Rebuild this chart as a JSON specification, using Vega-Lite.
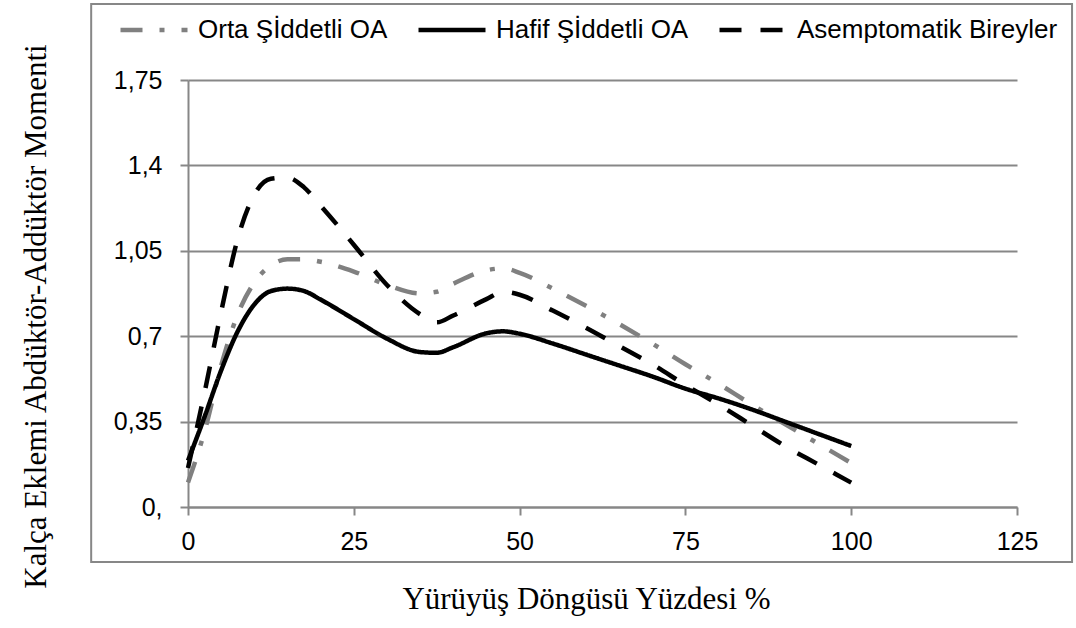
{
  "$schema": "https://vega.github.io/schema/vega-lite/v6.json",
  "autosize": {"type": "none"},
  "width": 829,
  "height": 427,
  "padding": {"left": 188, "top": 80, "right": 59, "bottom": 121},
  "background": "white",
  "config": {
    "view": {"stroke": null},
    "font": "Liberation Sans"
  },
  "layer": [
    {
      "data": {"values": [{"k": 1}]},
      "mark": {"type": "rect", "fill": "transparent", "stroke": "#878787", "strokeWidth": 2},
      "encoding": {
        "x": {"datum": -14.6, "type": "quantitative"},
        "x2": {"datum": 133.3},
        "y": {"datum": 2.061, "type": "quantitative"},
        "y2": {"datum": -0.225}
      }
    },
    {
      "data": {
        "values": [
          {"series": "Orta Şİddetli OA", "x": 0, "y": 0.10},
          {"series": "Orta Şİddetli OA", "x": 2.5, "y": 0.31},
          {"series": "Orta Şİddetli OA", "x": 5, "y": 0.58},
          {"series": "Orta Şİddetli OA", "x": 7.5, "y": 0.79},
          {"series": "Orta Şİddetli OA", "x": 10, "y": 0.92},
          {"series": "Orta Şİddetli OA", "x": 12.5, "y": 0.99},
          {"series": "Orta Şİddetli OA", "x": 15, "y": 1.015},
          {"series": "Orta Şİddetli OA", "x": 17.5, "y": 1.015},
          {"series": "Orta Şİddetli OA", "x": 20, "y": 1.005},
          {"series": "Orta Şİddetli OA", "x": 25, "y": 0.965},
          {"series": "Orta Şİddetli OA", "x": 30, "y": 0.91},
          {"series": "Orta Şİddetli OA", "x": 35, "y": 0.875},
          {"series": "Orta Şİddetli OA", "x": 37.5, "y": 0.882},
          {"series": "Orta Şİddetli OA", "x": 40, "y": 0.915},
          {"series": "Orta Şİddetli OA", "x": 45, "y": 0.97},
          {"series": "Orta Şİddetli OA", "x": 47.5, "y": 0.978},
          {"series": "Orta Şİddetli OA", "x": 50, "y": 0.96},
          {"series": "Orta Şİddetli OA", "x": 55, "y": 0.895},
          {"series": "Orta Şİddetli OA", "x": 60, "y": 0.825},
          {"series": "Orta Şİddetli OA", "x": 65, "y": 0.75},
          {"series": "Orta Şİddetli OA", "x": 70, "y": 0.67},
          {"series": "Orta Şİddetli OA", "x": 75, "y": 0.585},
          {"series": "Orta Şİddetli OA", "x": 80, "y": 0.505},
          {"series": "Orta Şİddetli OA", "x": 85, "y": 0.42},
          {"series": "Orta Şİddetli OA", "x": 90, "y": 0.34},
          {"series": "Orta Şİddetli OA", "x": 95, "y": 0.26},
          {"series": "Orta Şİddetli OA", "x": 100, "y": 0.18},
          {"series": "Hafif Şİddetli OA", "x": 0, "y": 0.19},
          {"series": "Hafif Şİddetli OA", "x": 2.5, "y": 0.37},
          {"series": "Hafif Şİddetli OA", "x": 5, "y": 0.56},
          {"series": "Hafif Şİddetli OA", "x": 7.5, "y": 0.72},
          {"series": "Hafif Şİddetli OA", "x": 10, "y": 0.83},
          {"series": "Hafif Şİddetli OA", "x": 12.5, "y": 0.885},
          {"series": "Hafif Şİddetli OA", "x": 15, "y": 0.895},
          {"series": "Hafif Şİddetli OA", "x": 17.5, "y": 0.885},
          {"series": "Hafif Şİddetli OA", "x": 20, "y": 0.85},
          {"series": "Hafif Şİddetli OA", "x": 25, "y": 0.77},
          {"series": "Hafif Şİddetli OA", "x": 30, "y": 0.69},
          {"series": "Hafif Şİddetli OA", "x": 35, "y": 0.635},
          {"series": "Hafif Şİddetli OA", "x": 37.5, "y": 0.632},
          {"series": "Hafif Şİddetli OA", "x": 40, "y": 0.655},
          {"series": "Hafif Şİddetli OA", "x": 45, "y": 0.712},
          {"series": "Hafif Şİddetli OA", "x": 47.5, "y": 0.72},
          {"series": "Hafif Şİddetli OA", "x": 50, "y": 0.71},
          {"series": "Hafif Şİddetli OA", "x": 55, "y": 0.67},
          {"series": "Hafif Şİddetli OA", "x": 60, "y": 0.625},
          {"series": "Hafif Şİddetli OA", "x": 65, "y": 0.58},
          {"series": "Hafif Şİddetli OA", "x": 70, "y": 0.535},
          {"series": "Hafif Şİddetli OA", "x": 75, "y": 0.485},
          {"series": "Hafif Şİddetli OA", "x": 80, "y": 0.445},
          {"series": "Hafif Şİddetli OA", "x": 85, "y": 0.40},
          {"series": "Hafif Şİddetli OA", "x": 90, "y": 0.35},
          {"series": "Hafif Şİddetli OA", "x": 95, "y": 0.30},
          {"series": "Hafif Şİddetli OA", "x": 100, "y": 0.25},
          {"series": "Asemptomatik Bireyler", "x": 0, "y": 0.16},
          {"series": "Asemptomatik Bireyler", "x": 2.5, "y": 0.47},
          {"series": "Asemptomatik Bireyler", "x": 5, "y": 0.80},
          {"series": "Asemptomatik Bireyler", "x": 7.5, "y": 1.10},
          {"series": "Asemptomatik Bireyler", "x": 10, "y": 1.28},
          {"series": "Asemptomatik Bireyler", "x": 12.5, "y": 1.345},
          {"series": "Asemptomatik Bireyler", "x": 15, "y": 1.35},
          {"series": "Asemptomatik Bireyler", "x": 17.5, "y": 1.31},
          {"series": "Asemptomatik Bireyler", "x": 20, "y": 1.235},
          {"series": "Asemptomatik Bireyler", "x": 25, "y": 1.075},
          {"series": "Asemptomatik Bireyler", "x": 30, "y": 0.91},
          {"series": "Asemptomatik Bireyler", "x": 35, "y": 0.79},
          {"series": "Asemptomatik Bireyler", "x": 37.5, "y": 0.757},
          {"series": "Asemptomatik Bireyler", "x": 40, "y": 0.785},
          {"series": "Asemptomatik Bireyler", "x": 45, "y": 0.852},
          {"series": "Asemptomatik Bireyler", "x": 47.5, "y": 0.882},
          {"series": "Asemptomatik Bireyler", "x": 50, "y": 0.87},
          {"series": "Asemptomatik Bireyler", "x": 55, "y": 0.805},
          {"series": "Asemptomatik Bireyler", "x": 60, "y": 0.735},
          {"series": "Asemptomatik Bireyler", "x": 65, "y": 0.66},
          {"series": "Asemptomatik Bireyler", "x": 70, "y": 0.585},
          {"series": "Asemptomatik Bireyler", "x": 75, "y": 0.50},
          {"series": "Asemptomatik Bireyler", "x": 80, "y": 0.42},
          {"series": "Asemptomatik Bireyler", "x": 85, "y": 0.335},
          {"series": "Asemptomatik Bireyler", "x": 90, "y": 0.25},
          {"series": "Asemptomatik Bireyler", "x": 95, "y": 0.175},
          {"series": "Asemptomatik Bireyler", "x": 100, "y": 0.10}
        ]
      },
      "mark": {"type": "line", "interpolate": "monotone", "strokeWidth": 4.5, "strokeCap": "butt"},
      "encoding": {
        "x": {
          "field": "x", "type": "quantitative",
          "scale": {"domain": [0, 125], "nice": false, "zero": false},
          "axis": {
            "values": [0, 25, 50, 75, 100, 125],
            "grid": false,
            "domainColor": "#878787", "domainWidth": 2,
            "tickColor": "#878787", "tickWidth": 2, "tickSize": 8,
            "labelFont": "Liberation Sans", "labelFontSize": 25, "labelColor": "black", "labelPadding": 14,
            "labelFlush": false,
            "title": "Yürüyüş Döngüsü Yüzdesi %",
            "titleFont": "Liberation Serif", "titleFontSize": 31, "titleFontWeight": "normal", "titleColor": "black",
            "titleX": 398, "titleY": 101, "titleAlign": "center", "titleBaseline": "alphabetic"
          }
        },
        "y": {
          "field": "y", "type": "quantitative",
          "scale": {"domain": [0, 1.75], "nice": false, "zero": false},
          "axis": {
            "values": [0, 0.35, 0.7, 1.05, 1.4, 1.75],
            "labelExpr": "datum.value == 0 ? '0,' : replace(format(datum.value, '~g'), '.', ',')",
            "grid": true, "gridColor": "#878787", "gridWidth": 2,
            "domainColor": "#878787", "domainWidth": 2,
            "tickColor": "#878787", "tickWidth": 2, "tickSize": 8,
            "labelFont": "Liberation Sans", "labelFontSize": 25, "labelColor": "black", "labelPadding": 18,
            "labelFlush": false,
            "title": "Kalça Eklemi Abdüktör-Addüktör Momenti",
            "titleFont": "Liberation Serif", "titleFontSize": 31, "titleFontWeight": "normal", "titleColor": "black",
            "titleAngle": -90, "titleX": -143, "titleY": 236, "titleAlign": "center", "titleBaseline": "alphabetic"
          }
        },
        "color": {
          "field": "series", "type": "nominal",
          "scale": {
            "domain": ["Orta Şİddetli OA", "Hafif Şİddetli OA", "Asemptomatik Bireyler"],
            "range": ["#808080", "#000000", "#000000"]
          },
          "legend": {
            "orient": "none", "legendX": -70, "legendY": -86, "direction": "horizontal", "columns": 3,
            "title": null, "padding": 0,
            "symbolType": "stroke", "symbolSize": 4489, "symbolStrokeWidth": 4.5,
            "labelFont": "Liberation Sans", "labelFontSize": 26, "labelColor": "black", "labelOffset": 8,
            "columnPadding": 21, "labelLimit": 400
          }
        },
        "strokeDash": {
          "field": "series", "type": "nominal",
          "scale": {
            "domain": ["Orta Şİddetli OA", "Hafif Şİddetli OA", "Asemptomatik Bireyler"],
            "range": [[22, 17, 5, 17], [1, 0], [22, 19]]
          },
          "legend": {
            "orient": "none", "legendX": -70, "legendY": -86, "direction": "horizontal", "columns": 3,
            "title": null, "padding": 0,
            "symbolType": "stroke", "symbolSize": 4489, "symbolStrokeWidth": 4.5,
            "labelFont": "Liberation Sans", "labelFontSize": 26, "labelColor": "black", "labelOffset": 8,
            "columnPadding": 21, "labelLimit": 400
          }
        }
      }
    }
  ]
}
